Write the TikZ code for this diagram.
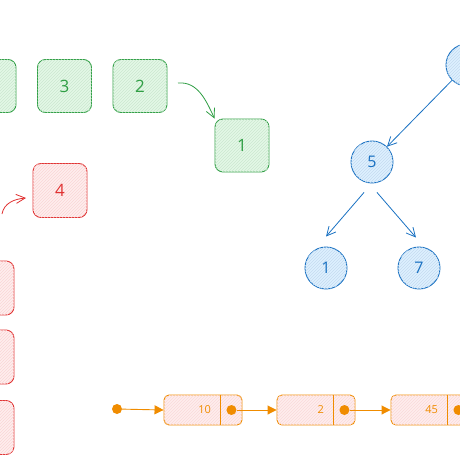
\documentclass[tikz,border=0pt]{standalone}
\usepackage{fontspec}
\setmainfont{Open Sans}
\usetikzlibrary{arrows.meta,patterns}
\definecolor{gstroke}{HTML}{2F9E44}
\definecolor{gfill}{HTML}{E3F8E6}
\definecolor{rstroke}{HTML}{E03131}
\definecolor{rfill}{HTML}{FFEDED}
\definecolor{bstroke}{HTML}{1971C2}
\definecolor{bfill}{HTML}{DDF0FF}
\definecolor{ostroke}{HTML}{F08C00}
\tikzset{
  x=1pt,y=-1pt,
  gbox/.style={draw=gstroke, line width=0.9pt, rounded corners=8pt, fill=gfill,
    postaction={pattern=north east lines, pattern color=gstroke!25},
    minimum width=54pt, minimum height=53pt, text=gstroke, font=\fontsize{17}{17}\selectfont},
  rbox/.style={draw=rstroke, line width=0.9pt, rounded corners=8pt, fill=rfill,
    postaction={pattern=north east lines, pattern color=rstroke!20},
    minimum width=54pt, minimum height=54pt, text=rstroke, font=\fontsize{17}{17}\selectfont},
  bcirc/.style={circle, draw=bstroke, line width=0.9pt, fill=bfill,
    postaction={pattern=north east lines, pattern color=bstroke!25},
    minimum size=42pt, inner sep=0pt, text=bstroke, font=\fontsize{16}{16}\selectfont},
  lcell/.style={draw=ostroke, line width=0.9pt, rounded corners=5pt, fill=rfill,
    postaction={pattern=north east lines, pattern color=rstroke!18},
    minimum width=78pt, minimum height=30pt},
  odot/.style={circle, fill=ostroke, inner sep=0pt, minimum size=10pt},
  otext/.style={text=ostroke, font=\fontsize{11}{11}\selectfont},
  sarrow/.style={-{Straight Barb[length=9pt,width=9pt]}, line width=0.8pt},
  oarrow/.style={draw=ostroke, line width=0.9pt, -{Triangle[length=9pt,width=9pt]}},
}
\begin{document}
\begin{tikzpicture}
\useasboundingbox (0,0) rectangle (460,460);
% green
\node[gbox] (g4) at (-11,86) {};
\node[gbox] (g3) at (64.5,86) {3};
\node[gbox] (g2) at (140,86) {2};
\node[gbox] (g1) at (242,145.5) {1};
\coordinate (gs) at (178,83);
\draw[sarrow, draw=gstroke] (gs) to[out=5,in=115] (g1.north west);
% red
\node[rbox] (r4) at (60,190.5) {4};
\node[rbox] (r3) at (-13,288) {};
\node[rbox] (r2) at (-13,357) {};
\node[rbox] (r1) at (-13,427.5) {};
\coordinate (rs) at (2,214);
\coordinate (re) at (26,198);
\draw[sarrow, draw=rstroke] (rs) to[out=80,in=185] (re);
% blue tree
\node[bcirc] (b8) at (467,65) {};
\node[bcirc] (b5) at (372,162) {5};
\node[bcirc] (b1) at (326,268) {1};
\node[bcirc] (b7) at (419,268) {7};
\draw[sarrow, draw=bstroke] (b8) -- (b5);
\draw[sarrow, draw=bstroke] ([xshift=-8pt,yshift=-9pt]b5.south) -- ([yshift=10pt]b1.north);
\draw[sarrow, draw=bstroke] ([xshift=5pt,yshift=-9pt]b5.south) -- ([xshift=-3pt,yshift=9pt]b7.north);
% linked list
\node[odot] (start) at (117,409) {};
\node[lcell] (c1) at (203,410) {};
\node[lcell] (c2) at (316,410) {};
\node[lcell] (c3) at (430,410) {};
\foreach \c/\v in {c1/10,c2/2,c3/45}{
  \draw[ostroke, line width=0.9pt] ([xshift=-22pt]\c.north east) -- ([xshift=-22pt]\c.south east);
  \node[otext, anchor=east] (\c t) at ([xshift=-28pt]\c.east) {\v};
  \node[odot] (\c d) at ([xshift=-11pt]\c.east) {};
}
\draw[oarrow] (start) -- (c1.west);
\draw[oarrow] (c1d) -- (c2.west);
\draw[oarrow] (c2d) -- (c3.west);
\end{tikzpicture}
\end{document}
